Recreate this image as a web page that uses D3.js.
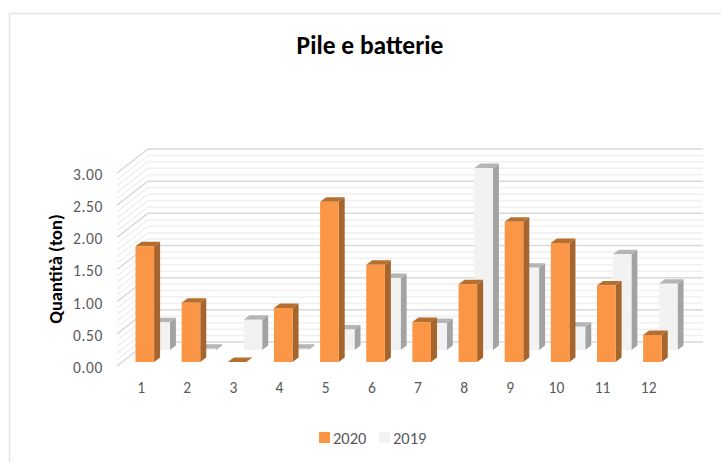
<!DOCTYPE html>
<html><head><meta charset="utf-8">
<script src="https://cdn.jsdelivr.net/npm/d3@7/dist/d3.min.js"></script>
<style>html,body{margin:0;padding:0;background:#fff}svg{display:block}</style>
</head><body><svg id="c" width="721" height="462"></svg>
<script>
const categories=["1","2","3","4","5","6","7","8","9","10","11","12"];
const values2020=[1.80,0.92,0.00,0.84,2.49,1.51,0.62,1.21,2.18,1.85,1.19,0.42];
const values2019=[0.43,0.02,0.47,0.02,0.32,1.12,0.42,2.83,1.28,0.36,1.49,1.03];
const seriesNames=["2020","2019"];
const yTicks=[0,0.5,1,1.5,2,2.5,3];
const minorTicks=d3.range(0,3.01,0.1);

const font="Carlito, 'Open Sans', 'Liberation Sans', sans-serif";
const svg=d3.select("#c");
const y=d3.scaleLinear().domain([0,3]).range([193,0]);
const x=d3.scaleBand().domain(categories).range([135.5,135.5+46.15*12]);
const barW=18.6, dx=6, dy=-4.5, backOffX=15.8;
const wallX0=148, wallX1=703, wallTop=149, sideX=117, sideTop=173;

svg.append("path").attr("d","M9.5,462V13.5H721").attr("fill","none").attr("stroke","#e2e2e2").attr("stroke-width",1.5);

const g=svg.append("g");
minorTicks.forEach(t=>{
  const major=yTicks.some(m=>Math.abs(m-t)<1e-6);
  g.append("path").attr("fill","none").attr("stroke",major?"#d9d9d9":"#f0f0f0").attr("stroke-width",1.5)
   .attr("d",`M${sideX},${sideTop+y(t)}L${wallX0},${wallTop+y(t)}H${wallX1}`);
});

const yAxis=svg.append("g").attr("transform",`translate(103,${sideTop+1.5})`)
  .call(d3.axisLeft(y).tickValues(yTicks).tickFormat(d3.format(".2f")).tickSize(0).tickPadding(0));
yAxis.select(".domain").remove();
yAxis.selectAll("text").attr("font-family",font).attr("font-size",15.5).attr("fill","#595959").attr("letter-spacing",0.6);

const xAxis=svg.append("g").attr("transform","translate(-17.5,381.5)")
  .call(d3.axisBottom(x).tickSize(0).tickPadding(0).tickFormat(d=>d));
xAxis.select(".domain").remove();
xAxis.selectAll("text").attr("font-family",font).attr("font-size",15.5).attr("fill","#595959");

function bars(vals,ox,baseY,front,top,side){
  const gg=svg.append("g");
  vals.forEach((v,i)=>{
    const xl=x(categories[i])+ox, yt=baseY-(193-y(v)), xr=xl+barW;
    gg.append("path").attr("fill",side).attr("d",`M${xr},${yt}L${xr+dx},${yt+dy}V${baseY+dy}L${xr},${baseY}Z`);
    gg.append("path").attr("fill",top).attr("d",`M${xl},${yt}L${xl+dx},${yt+dy}H${xr+dx}L${xr},${yt}Z`);
    if(v>0) gg.append("rect").attr("x",xl).attr("y",yt).attr("width",barW).attr("height",baseY-yt).attr("fill",front);
  });
}
bars(values2019,backOffX,350,"#f2f2f2","#b5b5b5","#a3a3a3");
bars(values2020,0,362,"#fb9646","#b5702f","#a6652c");

svg.append("text").attr("x",370).attr("y",54).attr("text-anchor","middle")
 .attr("font-family",font).attr("font-size",25.5).attr("font-weight",700).attr("fill","#000").text("Pile e batterie");
svg.append("text").attr("transform","translate(62,269) rotate(-90)").attr("text-anchor","middle")
 .attr("font-family",font).attr("font-size",18.5).attr("font-weight",700).attr("fill","#000").text("Quantità (ton)");

const legendColors=["#fb9646","#f2f2f2"], legendX=[319,379];
seriesNames.forEach((s,i)=>{
  svg.append("rect").attr("x",legendX[i]).attr("y",432).attr("width",11).attr("height",11).attr("fill",legendColors[i]);
  svg.append("text").attr("x",legendX[i]+14).attr("y",444).attr("font-family",font).attr("font-size",16.5)
    .attr("fill","#595959").text(s);
});
</script></body></html>
